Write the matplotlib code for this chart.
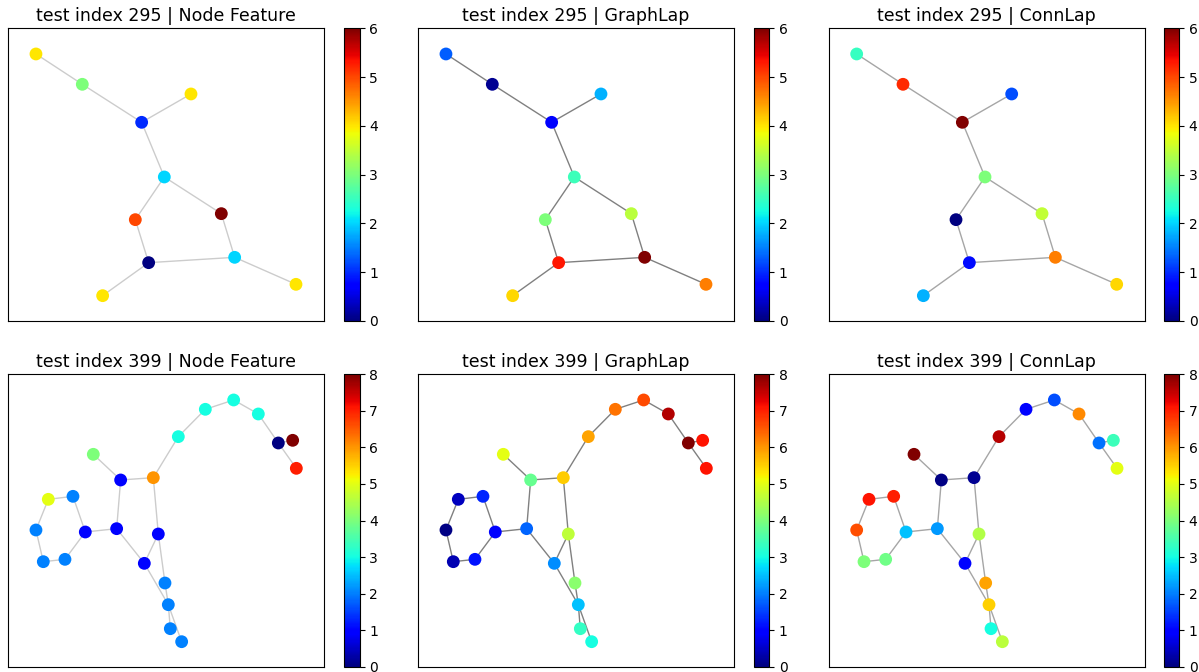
import matplotlib
matplotlib.use("Agg")
import matplotlib.pyplot as plt
from matplotlib.collections import LineCollection
import numpy as np

# ---------------- data ----------------
# Graph 295 (layout positions, node values)
g295_x = [108, 247, 425, 573, 493, 406, 664, 446, 704, 308, 888]
g295_y = [162, 253, 367, 282, 531, 659, 641, 788, 772, 887, 853]
g295_edges = [(0, 1), (1, 2), (2, 3), (2, 4), (4, 5), (4, 6), (5, 7), (6, 8),
              (7, 8), (7, 9), (8, 10)]
g295_feature = [4, 3, 1, 4, 2, 5, 6, 0, 2, 4, 4]
g295_graphlap = [1.3, 0.1, 0.75, 1.8, 2.55, 3.0, 3.45, 5.3, 6.0, 4.1, 4.65]
g295_connlap = [2.5, 5.2, 6.0, 1.2, 3.0, 0.0, 3.5, 0.8, 4.65, 1.8, 4.1]

# Graph 399
g399_x = [280, 362, 460, 535, 616, 701, 775, 835, 878, 889, 145, 219, 108,
          256, 130, 195, 350, 475, 433, 495, 505, 511, 545]
g399_y = [343, 420, 413, 290, 208, 180, 222, 309, 301, 385, 478, 469, 570,
          576, 665, 658, 566, 582, 670, 729, 794, 866, 905]
g399_edges = [(0, 1), (1, 2), (2, 3), (3, 4), (4, 5), (5, 6), (6, 7), (7, 8),
              (7, 9), (10, 11), (10, 12), (11, 13), (12, 14), (14, 15),
              (15, 13), (13, 16), (16, 1), (16, 18), (2, 17), (17, 18),
              (17, 19), (19, 20), (18, 20), (20, 21), (20, 22)]
g399_feature = [4, 1, 6, 3, 3, 3, 3, 0, 8, 7, 5, 2, 2, 1, 2, 2, 1, 1, 1, 2,
                2, 2, 2]
g399_graphlap = [5.0, 3.8, 5.55, 5.9, 6.3, 6.65, 7.65, 8.0, 7.1, 7.1, 0.45,
                 1.3, 0.05, 1.0, 0.35, 1.15, 1.8, 4.65, 2.1, 4.15, 2.5, 3.3,
                 3.0]
g399_connlap = [8.0, 0.05, 0.15, 7.6, 1.0, 1.6, 6.1, 1.9, 3.4, 5.0, 7.1, 7.0,
                6.6, 2.5, 4.0, 3.9, 2.2, 4.5, 1.0, 5.9, 5.5, 3.0, 4.6]

methods = ["Node Feature", "GraphLap", "ConnLap"]
edge_alpha = [0.4, 1.0, 0.7]

rows = [
    dict(idx=295, x=g295_x, y=g295_y, edges=g295_edges,
         vals=[g295_feature, g295_graphlap, g295_connlap], vmax=6,
         xlim=(25, 972), ylim=(963, 85)),
    dict(idx=399, x=g399_x, y=g399_y, edges=g399_edges,
         vals=[g399_feature, g399_graphlap, g399_connlap], vmax=8,
         xlim=(25, 972), ylim=(980, 103)),
]

# ---------------- layout ----------------
W, H = 1199, 672
fig = plt.figure(figsize=(W / 100, H / 100), dpi=100)

ax_left = [8.3, 418.3, 829.0]
ax_w = 315.7
cb_left = [344.0, 753.5, 1163.5]
cb_w = 15.5
row_top = [28.3, 374.3]
row_h = [292.7, 292.4]

for r, row in enumerate(rows):
    xs = np.array(row["x"], dtype=float)
    ys = np.array(row["y"], dtype=float)
    segs = [[(xs[a], ys[a]), (xs[b], ys[b])] for a, b in row["edges"]]
    for c in range(3):
        ax = fig.add_axes([ax_left[c] / W, 1 - (row_top[r] + row_h[r]) / H,
                           ax_w / W, row_h[r] / H])
        lc = LineCollection(segs, colors="gray", alpha=edge_alpha[c],
                            linewidths=1.0, zorder=1)
        ax.add_collection(lc)
        sc = ax.scatter(xs, ys, c=row["vals"][c], cmap="jet", vmin=0,
                        vmax=row["vmax"], s=85, zorder=2, linewidths=0)
        ax.set_xlim(*row["xlim"])
        ax.set_ylim(*row["ylim"])
        ax.set_xticks([])
        ax.set_yticks([])
        ax.set_title(f"test index {row['idx']} | {methods[c]}", fontsize=12.5,
                     pad=5)
        cax = fig.add_axes([cb_left[c] / W, 1 - (row_top[r] + row_h[r]) / H,
                            cb_w / W, row_h[r] / H])
        cb = fig.colorbar(sc, cax=cax)
        cb.set_ticks(list(range(0, row["vmax"] + 1)))
        cb.ax.tick_params(labelsize=10)

fig.savefig("out.png", dpi=100)
